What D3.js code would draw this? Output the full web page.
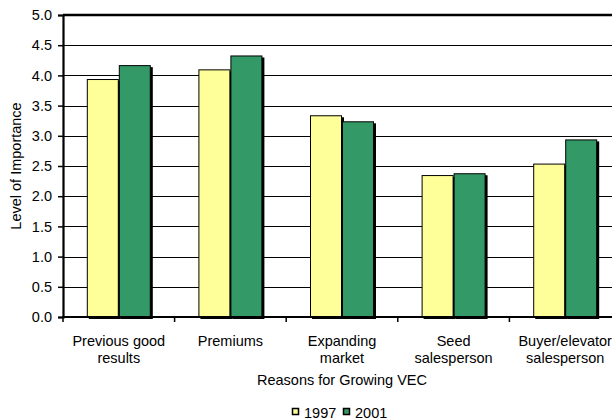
<!DOCTYPE html>
<html>
<head>
<meta charset="utf-8">
<script src="https://cdn.jsdelivr.net/npm/d3@7"></script>
<style>
  html, body { margin: 0; padding: 0; background: #fff; }
  svg { display: block; font-family: "Liberation Sans", Arial, sans-serif; }
</style>
</head>
<body>
<svg id="chart" width="612" height="420"></svg>
<script>
// Reasons for growing VEC, mean rated importance by survey year
const categories = [
  ["Previous good", "results"],
  ["Premiums"],
  ["Expanding", "market"],
  ["Seed", "salesperson"],
  ["Buyer/elevator", "salesperson"]
];
const years = ["1997", "2001"];
const values1997 = [3.94, 4.10, 3.34, 2.35, 2.54];
const values2001 = [4.17, 4.33, 3.24, 2.38, 2.94];
const yTicks = [0, 0.5, 1, 1.5, 2, 2.5, 3, 3.5, 4, 4.5, 5];
const colors = { "1997": "#FFFF99", "2001": "#339966" };
const fontSize = 14.5;

const svg = d3.select("#chart");
const plotLeft = 63, plotRight = 621, plotTop = 15, plotBottom = 317;
const catKeys = categories.map(c => c.join(" "));

const x0 = d3.scaleBand().domain(catKeys).range([plotLeft, plotRight]).padding(0);
const x1 = d3.scaleBand().domain(years).range([0, x0.bandwidth()])
  .paddingInner(0).paddingOuter(0.744);
const y = d3.scaleLinear().domain([0, 5]).range([plotBottom, plotTop]);

const rows = catKeys.map((k, i) => ({ key: k, lines: categories[i],
  vals: [{ year: "1997", v: values1997[i] }, { year: "2001", v: values2001[i] }] }));

// horizontal gridlines
svg.append("g").selectAll("line").data(yTicks.slice(1, -1)).join("line")
  .attr("x1", plotLeft).attr("x2", plotRight)
  .attr("y1", d => Math.round(y(d)) + 0.5).attr("y2", d => Math.round(y(d)) + 0.5)
  .attr("stroke", "#000").attr("stroke-width", 1.2);

// top frame line
svg.append("line").attr("x1", plotLeft).attr("x2", plotRight)
  .attr("y1", y(5)).attr("y2", y(5)).attr("stroke", "#000").attr("stroke-width", 2.5);

// bars with drop shadow
const groups = svg.append("g").selectAll("g").data(rows).join("g")
  .attr("transform", d => `translate(${x0(d.key)},0)`);
groups.selectAll("rect.shadow").data(d => d.vals).join("rect")
  .attr("class", "shadow")
  .attr("x", d => x1(d.year) + 2).attr("y", d => y(d.v) + 2)
  .attr("width", x1.bandwidth()).attr("height", d => plotBottom - y(d.v))
  .attr("fill", "#000");
groups.selectAll("rect.bar").data(d => d.vals).join("rect")
  .attr("class", "bar")
  .attr("x", d => x1(d.year) + 0.5).attr("y", d => y(d.v) + 0.5)
  .attr("width", x1.bandwidth() - 1).attr("height", d => plotBottom - y(d.v))
  .attr("fill", d => colors[d.year]).attr("stroke", "#000").attr("stroke-width", 1);

// y axis
const yAxis = d3.axisLeft(y).tickValues(yTicks).tickFormat(d3.format(".1f"))
  .tickSize(5).tickPadding(6);
const gy = svg.append("g").attr("transform", `translate(${plotLeft},0)`).call(yAxis);
gy.select(".domain").attr("stroke-width", 2.2);
gy.selectAll(".tick line").attr("stroke-width", 1.5);
gy.selectAll("text").attr("font-size", fontSize).attr("fill", "#000")
  .attr("font-family", "Liberation Sans, Arial, sans-serif");

// x axis with ticks at category boundaries
const bounds = catKeys.map(k => x0(k));
const gx = svg.append("g");
gx.append("line").attr("x1", plotLeft - 1).attr("x2", plotRight)
  .attr("y1", plotBottom).attr("y2", plotBottom).attr("stroke", "#000").attr("stroke-width", 2.2);
gx.selectAll("line.tick").data(bounds).join("line").attr("class", "tick")
  .attr("x1", d => d).attr("x2", d => d)
  .attr("y1", plotBottom).attr("y2", plotBottom + 5)
  .attr("stroke", "#000").attr("stroke-width", 1.5);

// category labels
const labels = svg.append("g").attr("font-size", fontSize).attr("fill", "#000")
  .attr("text-anchor", "middle");
labels.selectAll("text").data(rows).join("text")
  .attr("x", d => x0(d.key) + x0.bandwidth() / 2)
  .attr("y", 346)
  .each(function(d) {
    d3.select(this).selectAll("tspan").data(d.lines).join("tspan")
      .attr("x", x0(d.key) + x0.bandwidth() / 2)
      .attr("dy", (l, i) => i === 0 ? 0 : 17)
      .text(l => l);
  });

// axis titles
svg.append("text").attr("x", (plotLeft + plotRight) / 2).attr("y", 385)
  .attr("text-anchor", "middle").attr("font-size", fontSize).attr("fill", "#000")
  .text("Reasons for Growing VEC");
svg.append("text")
  .attr("transform", `translate(21,${(plotTop + plotBottom) / 2}) rotate(-90)`)
  .attr("text-anchor", "middle").attr("font-size", fontSize).attr("fill", "#000")
  .text("Level of Importance");

// legend
const legendItems = [{ year: "1997", x: 292 }, { year: "2001", x: 343 }];
const lg = svg.append("g");
lg.selectAll("rect").data(legendItems).join("rect")
  .attr("x", d => d.x + 0.5).attr("y", 408.5).attr("width", 6).attr("height", 6)
  .attr("fill", d => colors[d.year]).attr("stroke", "#000").attr("stroke-width", 1.5);
lg.selectAll("text").data(legendItems).join("text")
  .attr("x", d => d.x + 12).attr("y", 418).attr("font-size", fontSize).attr("fill", "#000")
  .text(d => d.year);
</script>
</body>
</html>
